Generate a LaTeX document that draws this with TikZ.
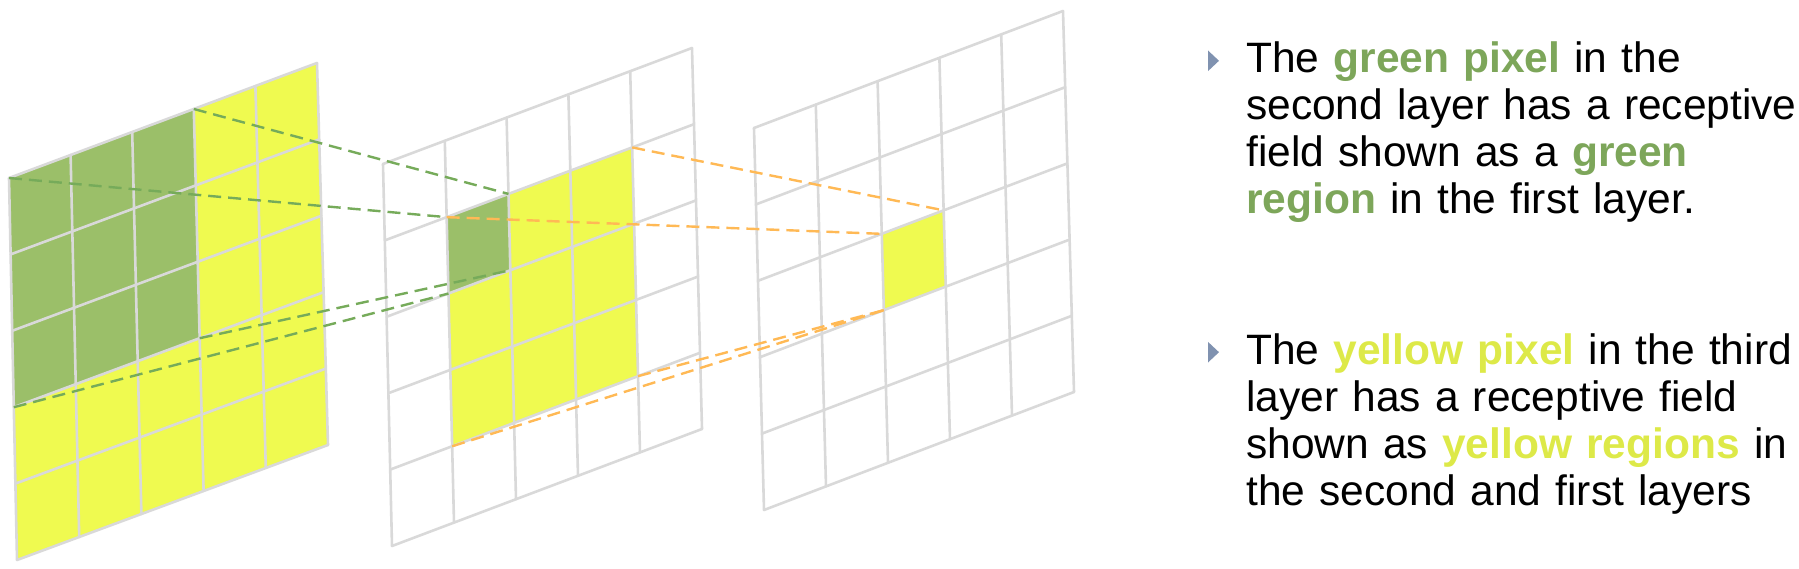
\documentclass[tikz,border=0pt]{standalone}
\usepackage{fontspec}
\setmainfont{Liberation Sans}
\usetikzlibrary{calc}
\definecolor{gridc}{RGB}{217,217,217}
\definecolor{gfill}{RGB}{155,191,105}
\definecolor{yfill}{RGB}{239,250,80}
\definecolor{gdash}{RGB}{118,171,90}
\definecolor{odash}{RGB}{255,185,85}
\definecolor{gtext}{RGB}{125,166,90}
\definecolor{ytext}{RGB}{221,233,72}
\definecolor{bullc}{RGB}{128,146,176}
\begin{document}
\begin{tikzpicture}[x=1pt,y=-1pt,
  gridline/.style={draw=gridc,line width=2.6pt,line cap=round,line join=round},
  gcell/.style={fill=gfill},
  ycell/.style={fill=yfill},
  gconn/.style={draw=gdash,line width=2.4pt,dash pattern=on 13pt off 7pt},
  oconn/.style={draw=odash,line width=2.4pt,dash pattern=on 13pt off 7pt},
  textblock/.style={anchor=base west,inner sep=0pt,text width=580pt,align=left,
    font=\fontsize{42.5}{47}\selectfont},
  bulletmark/.style={fill=bullc}]
\useasboundingbox (0,0) rectangle (1799,569);
% layer corners
\coordinate (a-TL) at (9,178);   \coordinate (a-TR) at (317,63);
\coordinate (a-BR) at (328,445); \coordinate (a-BL) at (17,560);
\coordinate (b-TL) at (383,164); \coordinate (b-TR) at (692,48);
\coordinate (b-BR) at (702,429); \coordinate (b-BL) at (392,546);
\coordinate (c-TL) at (754,128); \coordinate (c-TR) at (1063,11);
\coordinate (c-BR) at (1074,392); \coordinate (c-BL) at (764,510);
% grid points
\foreach \g in {a,b,c}{
  \foreach \i in {0,...,5}{
    \foreach \j in {0,...,5}{
      \coordinate (\g-\i-\j) at ($($(\g-TL)!\j/5!(\g-BL)$)!\i/5!($(\g-TR)!\j/5!(\g-BR)$)$);
    }
  }
}
% fills
\fill[ycell] (a-0-0) -- (a-5-0) -- (a-5-5) -- (a-0-5) -- cycle;
\fill[gcell] (a-0-0) -- (a-3-0) -- (a-3-3) -- (a-0-3) -- cycle;
\fill[ycell] (b-1-1) -- (b-4-1) -- (b-4-4) -- (b-1-4) -- cycle;
\fill[gcell] (b-1-1) -- (b-2-1) -- (b-2-2) -- (b-1-2) -- cycle;
\fill[ycell] (c-2-2) -- (c-3-2) -- (c-3-3) -- (c-2-3) -- cycle;
% grid lines
\foreach \g in {a,b,c}{
  \foreach \k in {0,...,5}{
    \draw[gridline] (\g-\k-0) -- (\g-\k-5);
    \draw[gridline] (\g-0-\k) -- (\g-5-\k);
  }
}
% receptive field connectors
\draw[gconn] (a-3-0) -- (b-2-1);
\draw[gconn] (a-0-0) -- (b-1-1);
\draw[gconn] (a-3-3) -- (b-2-2);
\draw[gconn] (a-0-3) -- (b-1-2);
\draw[oconn] (b-4-1) -- (c-3-2);
\draw[oconn] (b-1-1) -- (c-2-2);
\draw[oconn] (b-1-4) -- (c-2-3);
\draw[oconn] (b-4-4) -- (c-2-3);
% text
\fill[bulletmark] (1208,50.5) -- (1219,60.8) -- (1208,71.1) -- cycle;
\node[textblock] (t1) at (1246,73) {The \textbf{\textcolor{gtext}{green pixel}} in the\\
second layer has a receptive\\
field shown as a \textbf{\textcolor{gtext}{green}}\\
\textbf{\textcolor{gtext}{region}} in the first layer.};
\fill[bulletmark] (1208,341.9) -- (1219,352.2) -- (1208,362.5) -- cycle;
\node[textblock] (t2) at (1246,364) {The \textbf{\textcolor{ytext}{yellow pixel}} in the third\\
layer has a receptive field\\
shown as \textbf{\textcolor{ytext}{yellow regions}} in\\
the second and first layers};
\end{tikzpicture}
\end{document}
